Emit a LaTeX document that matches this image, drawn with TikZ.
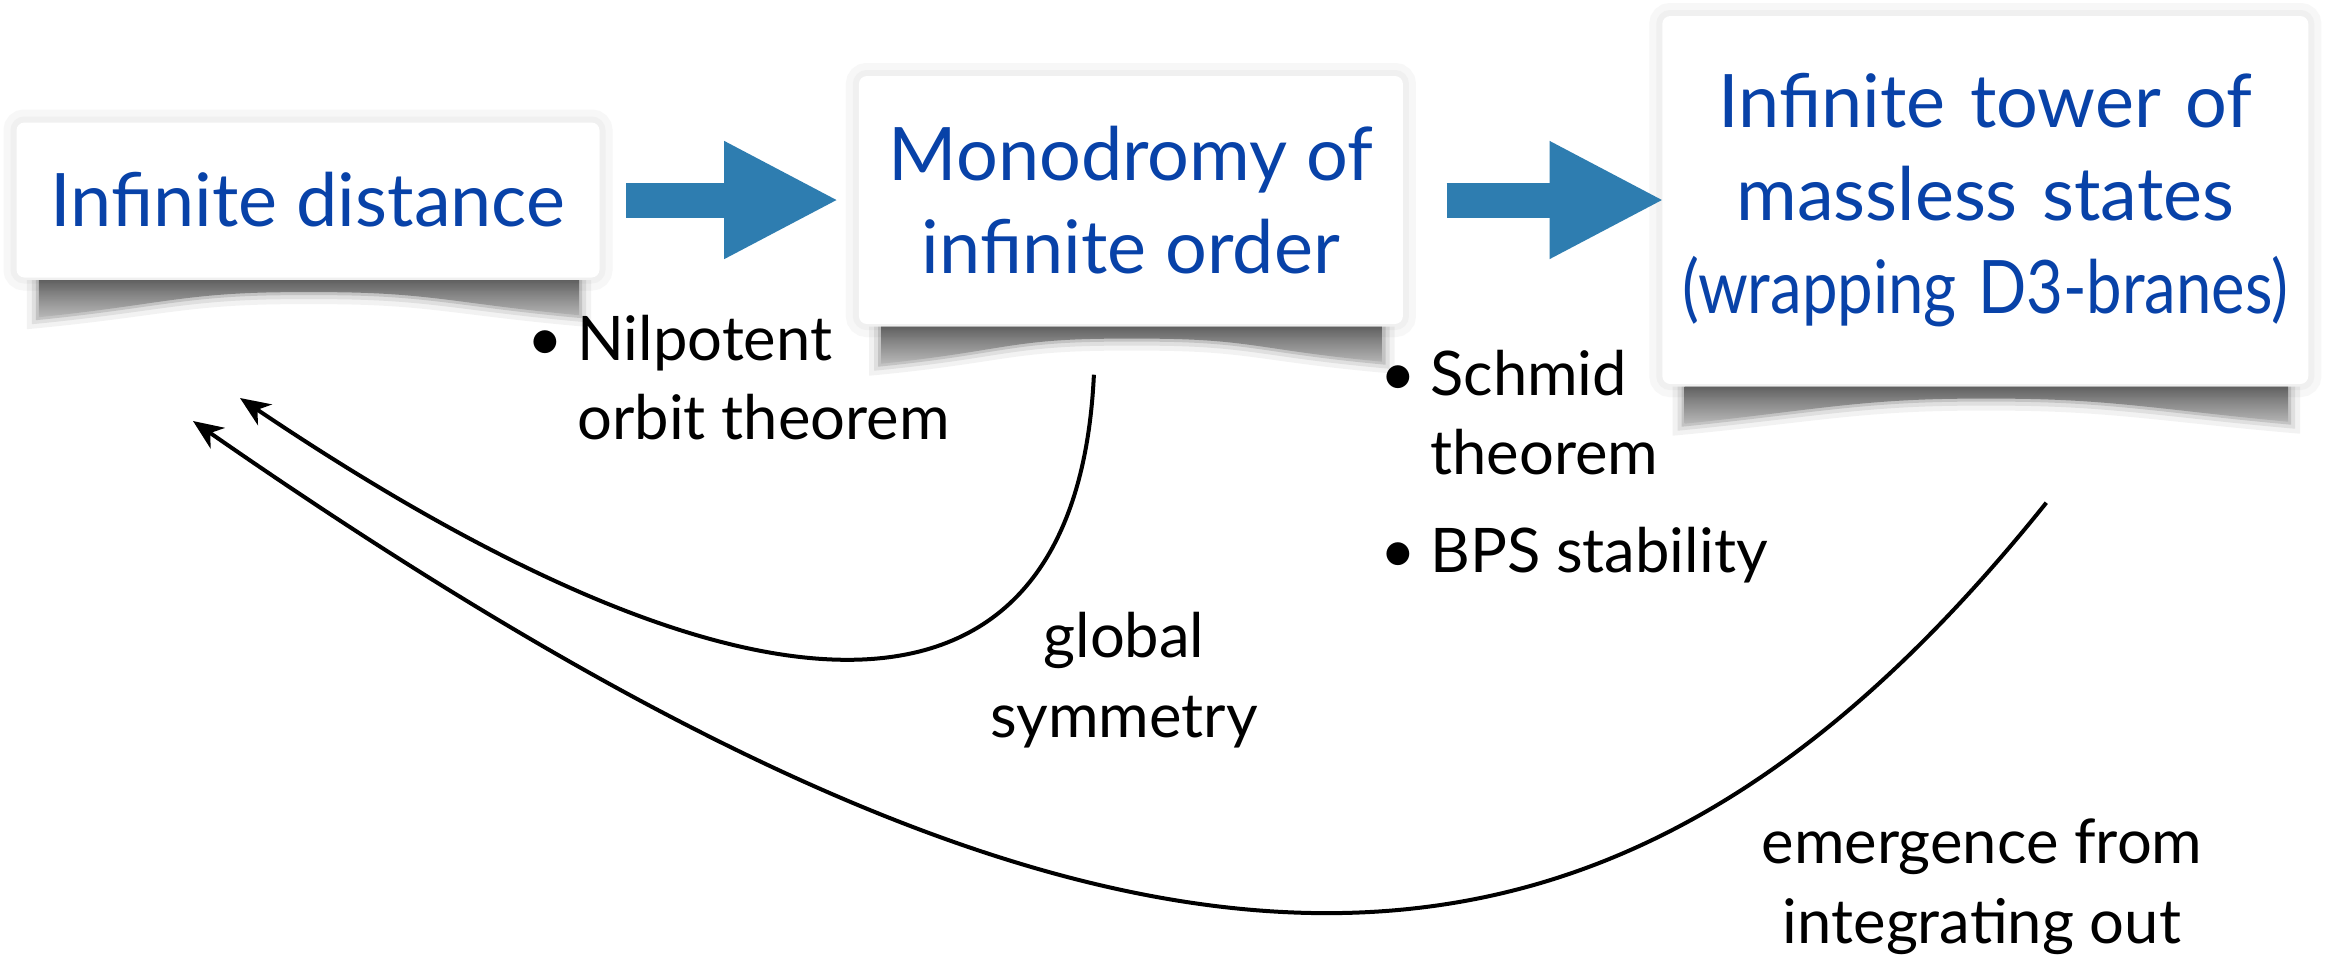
\documentclass[tikz,border=0pt]{standalone}
\usepackage{fontspec}
\setmainfont{Lato}
\usetikzlibrary{positioning,arrows.meta}

\definecolor{titleblue}{RGB}{8,66,168}
\definecolor{arrowblue}{RGB}{46,125,176}

\tikzset{
  statebox/.style={fill=white, rounded corners=0.8mm, align=center, text=titleblue,
    font=\fontsize{21}{26.5}\selectfont, inner sep=0pt,
    preaction={draw=black!3, line width=2.6mm},
    preaction={draw=black!6, line width=1.2mm}},
  flow/.style={line width=3.5mm, arrowblue, -{Triangle[length=11.5mm,width=10.9mm]}},
  back/.style={line width=0.4mm, -{Stealth[length=3mm,width=2.5mm,inset=0.9mm]}},
  note/.style={font=\fontsize{17.5}{22.5}\selectfont, inner sep=0pt},
}

% curled paper shadow under a box (#2 = extra spread for the blur)
\newcommand{\curlpath}[2]{%
    ([xshift=2.3mm-#2,yshift=-0.2mm]#1.south west) -- ([xshift=-2.1mm+#2,yshift=-0.2mm]#1.south east)
    -- ([xshift=-2.1mm+#2,yshift=-3.7mm-#2]#1.south east)
    .. controls ([xshift=-15mm,yshift=-2.5mm-#2]#1.south east) and ([xshift=12mm,yshift=-1.3mm-#2]#1.south) .. ([yshift=-1.4mm-#2]#1.south)
    .. controls ([xshift=-12mm,yshift=-1.3mm-#2]#1.south) and ([xshift=15mm,yshift=-2.6mm-#2]#1.south west) .. ([xshift=2.3mm-#2,yshift=-3.9mm-#2]#1.south west)
    -- cycle}
\newcommand{\curl}[1]{%
  \fill[black, opacity=0.05] \curlpath{#1}{1.2mm};
  \fill[black, opacity=0.08] \curlpath{#1}{0.7mm};
  \fill[black, opacity=0.12] \curlpath{#1}{0.3mm};
  \shade[top color=black!80, bottom color=black!30, opacity=0.65] \curlpath{#1}{0mm};
}

\begin{document}
\begin{tikzpicture}[x=0.1mm, y=-0.1mm, node distance=25.8mm]
    \fill[white] (0,0) rectangle (2328,962);
    \useasboundingbox (0,0) rectangle (2328,962);

    % Boxes
    \node[statebox, minimum width=58.3mm, minimum height=15.5mm] (dist) at (308,200) {Infinite distance};
    \node[statebox, minimum width=54.4mm, minimum height=24.8mm, right=of dist] (mono) {Monodromy of\\infinite order};
    \node[statebox, text width=64.6mm, minimum height=36.8mm, right=of mono] (tower) {Infinite tower of\\massless states\\\scalebox{0.86}[1]{(wrapping D3-branes)}};

    \curl{dist}
    \curl{mono}
    \curl{tower}

    % Implications
    \draw[flow, shorten <=2.6mm, shorten >=1.9mm] (dist) -- (mono);
    \draw[flow, shorten <=4.3mm, shorten >=-0.3mm] (mono) -- (tower);

    % Reasons
    \node[note, anchor=base west] (nilpotent) at (527,360) {\begin{tabular}[t]{@{}l@{\hspace{1.4mm}}l@{}}\textbullet & Nilpotent\\ & orbit theorem\end{tabular}};
    \node[note, anchor=base west] (schmid) at (1380,395) {\begin{tabular}[t]{@{}l@{\hspace{1.4mm}}l@{}}\textbullet & Schmid\\ & theorem\\[1.9mm] \textbullet & BPS stability\end{tabular}};

    % Back arrows
    \coordinate (tipA) at (240,398);
    \coordinate (tipB) at (193,421);
    \draw[back] ([xshift=-3.7mm,yshift=-5mm]mono.south) .. controls (1076,753) and (755,745) .. (tipA);
    \draw[back] ([xshift=6.1mm,yshift=-11.8mm]tower.south) .. controls (1610,1047) and (1136,1076) .. (tipB);

    \node[note, align=center, anchor=base] (global) at (1124,737) {global\\symmetry};
    \node[note, align=center, anchor=base] (emerge) at (1982,943) {emergence from\\integrating out};
\end{tikzpicture}
\end{document}
